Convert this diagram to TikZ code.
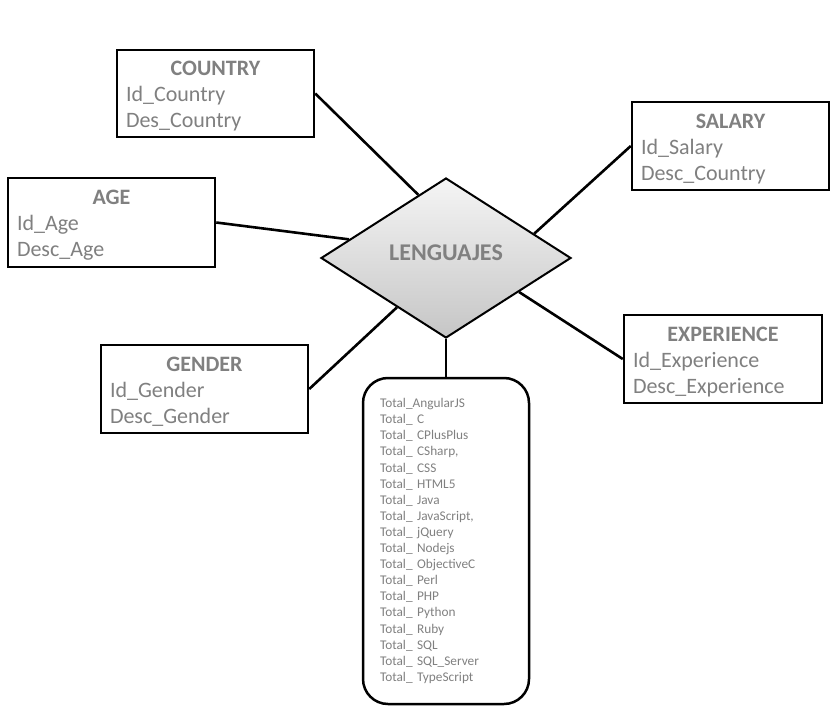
\documentclass[tikz,border=0pt]{standalone}
\usepackage{fontspec}
\setmainfont{Carlito}
\usetikzlibrary{shapes.geometric}
\usetikzlibrary{calc}

\definecolor{txtgray}{RGB}{128,128,128}

\tikzset{
  entity/.style={draw, line width=2.5pt, fill=white, align=left, inner xsep=9pt,
    inner ysep=0pt, text=txtgray, font=\fontsize{22}{26}\selectfont},
  link/.style={line width=2.6pt},
  relation/.style={diamond, draw, line width=2pt, inner sep=0pt,
    minimum width=250pt, minimum height=160pt, top color=gray!8, bottom color=gray!45,
    text=txtgray, font=\fontsize{24}{26}\selectfont\bfseries},
  totals/.style={draw, line width=2.5pt, rounded corners=25pt, align=left, inner xsep=17pt,
    inner ysep=0pt, text=txtgray, font=\fontsize{13.3}{16.1}\selectfont}
}
\newcommand{\enttitle}[1]{\makebox[\linewidth]{\rule{0pt}{20pt}\bfseries #1}}

\begin{document}
\begin{tikzpicture}[x=1pt,y=-1pt]
\useasboundingbox (0,0) rectangle (840,714);

% relation in the middle
\node[relation] (lang) at (446,258) {\raisebox{10pt}{LENGUAJES}};

% entities
\node[entity, text width=179pt, minimum height=87pt] (country) at (215.5,93.5)
  {\enttitle{COUNTRY}\\Id\_Country\\Des\_Country};
\node[entity, text width=179pt, minimum height=88pt] (salary) at (730.5,146)
  {\enttitle{SALARY}\\Id\_Salary\\Desc\_Country};
\node[entity, text width=189pt, minimum height=89pt] (age) at (111.5,222.5)
  {\enttitle{AGE}\\Id\_Age\\Desc\_Age};
\node[entity, text width=189pt, minimum height=88pt] (gender) at (204.5,389)
  {\enttitle{GENDER}\\Id\_Gender\\Desc\_Gender};
\node[entity, text width=180pt, minimum height=88pt] (experience) at (723,359)
  {\enttitle{EXPERIENCE}\\Id\_Experience\\Desc\_Experience};

% list of totals
\node[totals, text width=132pt, minimum height=326pt] (total) at (446,541)
  {Total\_AngularJS\\Total\_ C\\Total\_ CPlusPlus\\Total\_ CSharp,\\Total\_ CSS\\
   Total\_ HTML5\\Total\_ Java\\Total\_ JavaScript,\\Total\_ jQuery\\Total\_ Nodejs\\
   Total\_ ObjectiveC\\Total\_ Perl\\Total\_ PHP\\Total\_ Python\\Total\_ Ruby\\
   Total\_ SQL\\Total\_ SQL\_Server\\Total\_ TypeScript};

% connectors
\draw[link] (country.east) -- ($(lang.west)!0.78!(lang.north)$);
\draw[link] (age.east) -- ($(lang.west)!0.23!(lang.north)$);
\draw[link] (salary.west) -- ($(lang.north)!0.70!(lang.east)$);
\draw[link] (experience.west) -- ($(lang.east)!0.42!(lang.south)$);
\draw[link] (gender.east) -- ($(lang.south)!0.39!(lang.west)$);
\draw[link] (lang.south) -- (total.north);
\end{tikzpicture}
\end{document}
